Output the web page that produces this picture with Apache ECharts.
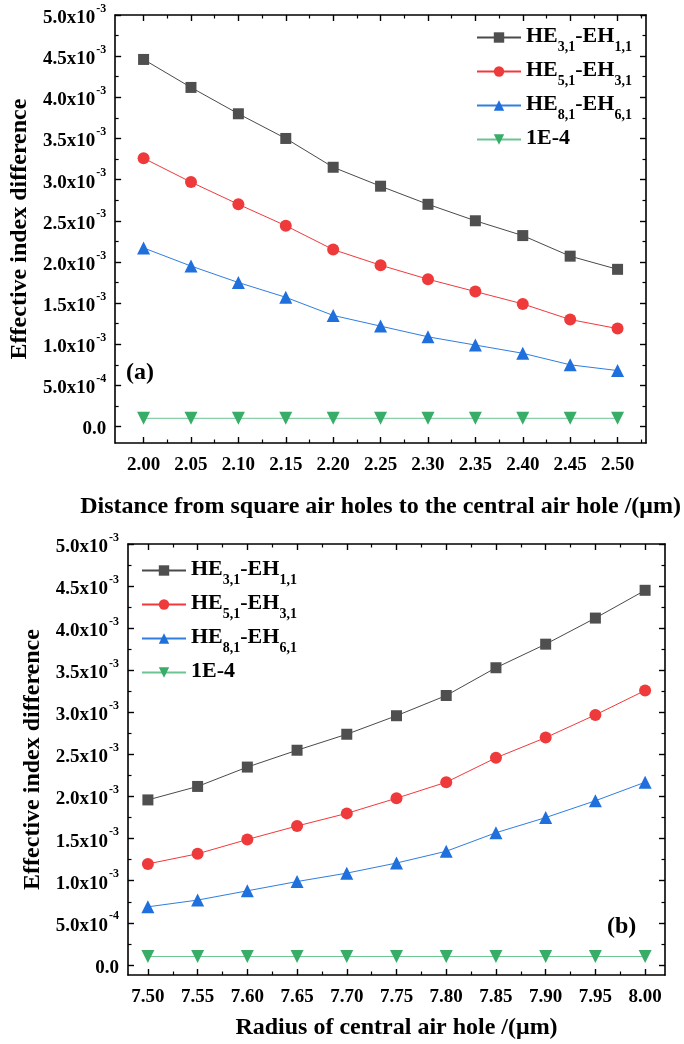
<!DOCTYPE html>
<html>
<head>
<meta charset="utf-8">
<script src="https://cdn.jsdelivr.net/npm/echarts@6/dist/echarts.min.js"></script>
<style>
html,body{margin:0;padding:0;background:#fff;}
#c{width:684px;height:1044px;}
</style>
</head>
<body>
<div id="c"></div>
<script>
// ---------- data ----------
const xA = [2.00, 2.05, 2.10, 2.15, 2.20, 2.25, 2.30, 2.35, 2.40, 2.45, 2.50];
const he31A = [4.46e-3, 4.12e-3, 3.80e-3, 3.50e-3, 3.15e-3, 2.92e-3, 2.70e-3, 2.50e-3, 2.32e-3, 2.07e-3, 1.91e-3];
const he51A = [3.26e-3, 2.97e-3, 2.70e-3, 2.44e-3, 2.15e-3, 1.96e-3, 1.79e-3, 1.64e-3, 1.49e-3, 1.30e-3, 1.19e-3];
const he81A = [2.17e-3, 1.95e-3, 1.75e-3, 1.57e-3, 1.35e-3, 1.22e-3, 1.09e-3, 0.99e-3, 0.89e-3, 0.75e-3, 0.68e-3];
const refA  = [1e-4, 1e-4, 1e-4, 1e-4, 1e-4, 1e-4, 1e-4, 1e-4, 1e-4, 1e-4, 1e-4];

const xB = [7.50, 7.55, 7.60, 7.65, 7.70, 7.75, 7.80, 7.85, 7.90, 7.95, 8.00];
const he31B = [1.96e-3, 2.12e-3, 2.35e-3, 2.55e-3, 2.74e-3, 2.96e-3, 3.20e-3, 3.53e-3, 3.81e-3, 4.12e-3, 4.45e-3];
const he51B = [1.20e-3, 1.32e-3, 1.49e-3, 1.65e-3, 1.80e-3, 1.98e-3, 2.17e-3, 2.46e-3, 2.70e-3, 2.97e-3, 3.26e-3];
const he81B = [0.69e-3, 0.77e-3, 0.88e-3, 0.99e-3, 1.09e-3, 1.21e-3, 1.35e-3, 1.57e-3, 1.75e-3, 1.95e-3, 2.17e-3];
const refB  = [1e-4, 1e-4, 1e-4, 1e-4, 1e-4, 1e-4, 1e-4, 1e-4, 1e-4, 1e-4, 1e-4];

const yMajor = [0, 0.0005, 0.001, 0.0015, 0.002, 0.0025, 0.003, 0.0035, 0.004, 0.0045, 0.005];
const yMinor = [0.00025, 0.00075, 0.00125, 0.00175, 0.00225, 0.00275, 0.00325, 0.00375, 0.00425, 0.00475];
const xMajorA = [2.00, 2.05, 2.10, 2.15, 2.20, 2.25, 2.30, 2.35, 2.40, 2.45, 2.50];
const xMinorA = [2.025, 2.075, 2.125, 2.175, 2.225, 2.275, 2.325, 2.375, 2.425, 2.475, 2.525];
const xMajorB = [7.50, 7.55, 7.60, 7.65, 7.70, 7.75, 7.80, 7.85, 7.90, 7.95, 8.00];
const xMinorB = [7.475, 7.525, 7.575, 7.625, 7.675, 7.725, 7.775, 7.825, 7.875, 7.925, 7.975];

const seriesNames = ['HE31', 'HE51', 'HE81', 'REF'];
const legendLabels = {
  HE31: '{n|HE}{s|3,1}{n|-EH}{s|1,1}',
  HE51: '{n|HE}{s|5,1}{n|-EH}{s|3,1}',
  HE81: '{n|HE}{s|8,1}{n|-EH}{s|6,1}',
  REF: '{n|1E-4}'
};
const xTitleA = 'Distance from square air holes to the central air hole /(μm)';
const xTitleB = 'Radius of central air hole /(μm)';
const yTitle = 'Effective index difference';

// ---------- styling ----------
const FONT = '"Liberation Serif", "Times New Roman", serif';
const colors = {
  HE31: {line: '#4a4a4a', sym: '#4f4f4f', symbol: 'rect', size: 11, rot: 0},
  HE51: {line: '#f0393b', sym: '#ef3a3b', symbol: 'circle', size: 12, rot: 0},
  HE81: {line: '#2f7ee0', sym: '#1f6fdc', symbol: 'triangle', size: 13, rot: 0},
  REF:  {line: '#6cc493', sym: '#37ad68', symbol: 'triangle', size: 13, rot: 180}
};

function yLabel(v) {
  if (Math.abs(v) < 1e-12) return '{n|0.0}';
  const e = Math.floor(Math.log10(v) + 1e-9);
  const m = v / Math.pow(10, e);
  return '{n|' + m.toFixed(1) + 'x10}{p|' + e + '}';
}

const yRich = {
  n: {fontFamily: FONT, fontWeight: 'bold', fontSize: 19, color: '#000', verticalAlign: 'bottom', padding: [6, 0, 0, 0]},
  p: {fontFamily: FONT, fontWeight: 'bold', fontSize: 12, color: '#000', verticalAlign: 'top', padding: [0, 0, 0, 1]}
};

function buildAxes(gi, xmin, xmax, xMaj, xMin, ymin, ymax, xName, xNameGap, yNameGap) {
  const line = {show: true, onZero: false, lineStyle: {color: '#000', width: 1.6}};
  const noLine = {show: false, onZero: false};
  const majTick = {show: true, inside: true, length: 6, lineStyle: {color: '#000', width: 1.4}};
  const minTick = {show: true, inside: true, length: 3.5, lineStyle: {color: '#000', width: 1.2}};
  const xAxes = [
    {type: 'value', gridIndex: gi, position: 'bottom', min: xmin, max: xmax,
     axisLine: line, axisTick: Object.assign({customValues: xMaj}, majTick),
     axisLabel: {show: true, customValues: xMaj, formatter: v => v.toFixed(2), margin: 13,
       fontFamily: FONT, fontWeight: 'bold', fontSize: 19, color: '#000'},
     splitLine: {show: false},
     name: xName, nameLocation: 'middle', nameGap: xNameGap,
     nameTextStyle: {fontFamily: FONT, fontWeight: 'bold', fontSize: 24, color: '#000'}},
    {type: 'value', gridIndex: gi, position: 'bottom', min: xmin, max: xmax,
     axisLine: noLine, axisTick: Object.assign({customValues: xMin}, minTick),
     axisLabel: {show: false}, splitLine: {show: false}},
    {type: 'value', gridIndex: gi, position: 'top', min: xmin, max: xmax,
     axisLine: line, axisTick: Object.assign({customValues: xMaj}, majTick),
     axisLabel: {show: false}, splitLine: {show: false}},
    {type: 'value', gridIndex: gi, position: 'top', min: xmin, max: xmax,
     axisLine: noLine, axisTick: Object.assign({customValues: xMin}, minTick),
     axisLabel: {show: false}, splitLine: {show: false}}
  ];
  const yAxes = [
    {type: 'value', gridIndex: gi, position: 'left', min: ymin, max: ymax,
     axisLine: line, axisTick: Object.assign({customValues: yMajor}, majTick),
     axisLabel: {show: true, customValues: yMajor, formatter: yLabel, margin: 9, rich: yRich},
     splitLine: {show: false},
     name: yTitle, nameLocation: 'middle', nameGap: yNameGap, nameRotate: 90,
     nameTextStyle: {fontFamily: FONT, fontWeight: 'bold', fontSize: 24, color: '#000'}},
    {type: 'value', gridIndex: gi, position: 'left', min: ymin, max: ymax,
     axisLine: noLine, axisTick: Object.assign({customValues: yMinor}, minTick),
     axisLabel: {show: false}, splitLine: {show: false}},
    {type: 'value', gridIndex: gi, position: 'right', min: ymin, max: ymax,
     axisLine: line, axisTick: Object.assign({customValues: yMajor}, majTick),
     axisLabel: {show: false}, splitLine: {show: false}},
    {type: 'value', gridIndex: gi, position: 'right', min: ymin, max: ymax,
     axisLine: noLine, axisTick: Object.assign({customValues: yMinor}, minTick),
     axisLabel: {show: false}, splitLine: {show: false}}
  ];
  return {xAxes, yAxes};
}

const axA = buildAxes(0, 1.97, 2.53, xMajorA, xMinorA, -0.0002, 0.005, xTitleA, 52, 80);
const axB = buildAxes(1, 7.48, 8.02, xMajorB, xMinorB, -0.00012, 0.005, xTitleB, 41, 81);

function mkSeries(key, xs, ys, xi, yi, nameSuffix) {
  const c = colors[key];
  return {
    type: 'line', name: key + nameSuffix, xAxisIndex: xi, yAxisIndex: yi,
    data: xs.map((x, i) => [x, ys[i]]),
    symbol: c.symbol, symbolSize: c.size, symbolRotate: c.rot,
    lineStyle: {color: c.line, width: 1},
    itemStyle: {color: c.sym},
    showSymbol: true, animation: false, z: key === 'REF' ? 1 : 2
  };
}

const series = [
  mkSeries('HE31', xA, he31A, 0, 0, 'a'),
  mkSeries('HE51', xA, he51A, 0, 0, 'a'),
  mkSeries('HE81', xA, he81A, 0, 0, 'a'),
  mkSeries('REF', xA, refA, 0, 0, 'a'),
  mkSeries('HE31', xB, he31B, 4, 4, 'b'),
  mkSeries('HE51', xB, he51B, 4, 4, 'b'),
  mkSeries('HE81', xB, he81B, 4, 4, 'b'),
  mkSeries('REF', xB, refB, 4, 4, 'b')
];

const legRich = {
  n: {fontFamily: FONT, fontWeight: 'bold', fontSize: 22, color: '#000', verticalAlign: 'top', padding: [0, 0, 7, 0]},
  s: {fontFamily: FONT, fontWeight: 'bold', fontSize: 14, color: '#000', verticalAlign: 'bottom'}
};
function mkLegend(suffix, left, top) {
  return {
    orient: 'vertical', left: left, top: top, itemGap: 5, itemWidth: 44, itemHeight: 13,
    data: seriesNames.map(k => k + suffix),
    formatter: name => legendLabels[name.slice(0, -1)],
    textStyle: {rich: legRich, padding: [4, 0, 0, 0]},
    selectedMode: false
  };
}

const option = {
  backgroundColor: '#fff',
  animation: false,
  grid: [
    {left: 110, top: 15, width: 536, height: 428},
    {left: 128, top: 544, width: 537, height: 431}
  ],
  xAxis: axA.xAxes.concat(axB.xAxes),
  yAxis: axA.yAxes.concat(axB.yAxes),
  legend: [mkLegend('a', 471, 20), mkLegend('b', 136, 553)],
  graphic: [
    {type: 'text', left: 126, top: 361, style: {text: '(a)', fontFamily: FONT, fontWeight: 'bold', fontSize: 24, fill: '#000'}},
    {type: 'text', left: 607, top: 915, style: {text: '(b)', fontFamily: FONT, fontWeight: 'bold', fontSize: 24, fill: '#000'}}
  ],
  series: series
};

const chart = echarts.init(document.getElementById('c'), null, {renderer: 'canvas'});
chart.setOption(option);
</script>
</body>
</html>
